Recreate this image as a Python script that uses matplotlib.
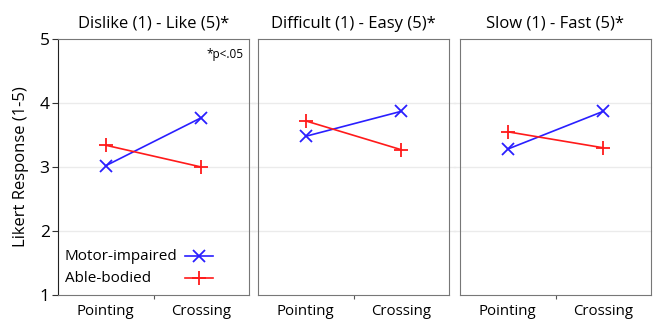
import numpy as np
import matplotlib.pyplot as plt

plt.rcParams['font.family'] = ['Open Sans', 'DejaVu Sans']

titles = ["Dislike (1) - Like (5)*", "Difficult (1) - Easy (5)*", "Slow (1) - Fast (5)*"]
conditions = ["Pointing", "Crossing"]
series_names = ["Motor-impaired", "Able-bodied"]
motor = [[3.02, 3.77], [3.48, 3.87], [3.28, 3.87]]
able = [[3.34, 3.00], [3.72, 3.27], [3.55, 3.30]]

fig = plt.figure(figsize=(6.54, 3.2), dpi=100)
lefts = [58, 258, 460]
W, H = 654, 320
xpos = [1, 3]

for i in range(3):
    ax = fig.add_axes([lefts[i] / W, 25 / H, 191 / W, 256 / H])
    ax.set_xlim(0, 4)
    ax.set_ylim(1, 5)
    # grid lines run across the gaps between panels
    x0 = 0 if i == 0 else -0.03
    x1 = 1 if i == 2 else 1.03
    for y in [2, 3, 4]:
        ax.axhline(y, x0, x1, color='#ebebeb', lw=1, zorder=0, clip_on=False)
    l1, = ax.plot(xpos, motor[i], color='#2a1fff', marker='x', ms=8, mew=1.3, lw=1.2)
    l2, = ax.plot(xpos, able[i], color='#ff1a1a', marker='+', ms=10, mew=1.3, lw=1.2)
    for s in ax.spines.values():
        s.set_color('#777777')
    ax.set_xticks([2])
    ax.set_xticklabels([''])
    ax.set_xticks(xpos, minor=True)
    ax.set_xticklabels(conditions, minor=True, fontsize=10.8)
    ax.tick_params(axis='x', which='minor', length=0, pad=6.5)
    ax.tick_params(axis='x', which='major', length=3, direction='out', color='#555555')
    ax.set_title(titles[i], fontsize=12, pad=8)
    if i == 0:
        ax.set_yticks([1, 2, 3, 4, 5])
        ax.tick_params(axis='y', length=4, labelsize=12.5, pad=2, color='#333333')
        ax.spines['left'].set_color('#222222')
        ax.set_ylabel("Likert Response (1-5)", fontsize=12, labelpad=8)
        ax.text(0.97, 0.965, "*p<.05", transform=ax.transAxes, ha='right', va='top', fontsize=8.5)
        # legend: labels on the left, line samples on the right
        ax.legend([l1, l2], ['', ''], loc='lower left', bbox_to_anchor=(0.635, 0.005),
                  frameon=False, handlelength=1.8, handletextpad=0, labelspacing=0.5,
                  fontsize=11, borderaxespad=0)
        ax.text(0.035, 0.137, series_names[0], transform=ax.transAxes, ha='left', va='baseline', fontsize=11)
        ax.text(0.035, 0.051, series_names[1], transform=ax.transAxes, ha='left', va='baseline', fontsize=11)
    else:
        ax.set_yticks([1, 2, 3, 4, 5])
        ax.tick_params(axis='y', length=0, labelleft=False)

fig.savefig("out.png", dpi=100)
